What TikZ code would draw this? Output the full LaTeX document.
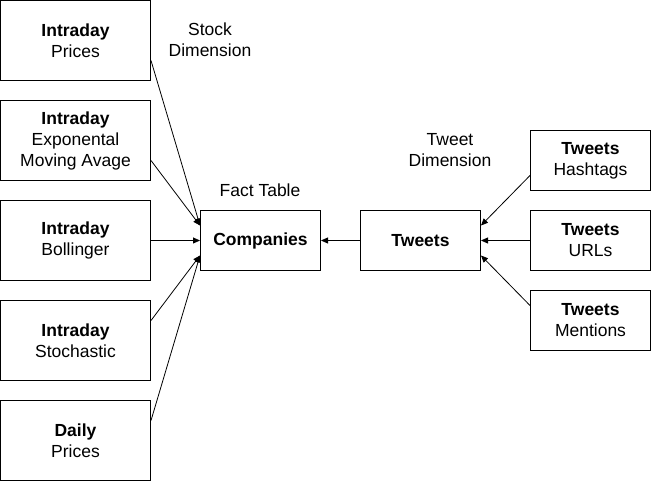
\documentclass[tikz,border=0pt]{standalone}
\usepackage{fontspec}
\setmainfont{Liberation Sans}
\usetikzlibrary{arrows.meta}
\begin{document}
\begin{tikzpicture}[x=1pt,y=-1pt,
  box/.style={draw=black,line width=1pt,fill=white,minimum width=150pt,minimum height=80pt,inner sep=0pt,align=center,font=\fontsize{17.5}{21}\selectfont},
  cbox/.style={box,minimum width=120pt,minimum height=60pt},
  lbl/.style={align=center,font=\fontsize{17.5}{21}\selectfont,inner sep=0pt},
  arr/.style={draw=black,line width=0.8pt,-{Triangle[length=7pt,width=6pt]}}]
\useasboundingbox (0,0) rectangle (651,481);
\node[box] (ip) at (75.5,40.5) {\textbf{Intraday}\\Prices};
\node[box] (ie) at (75.5,140.5) {\textbf{Intraday}\\Exponental\\Moving Avage};
\node[box] (ib) at (75.5,240.5) {\textbf{Intraday}\\Bollinger};
\node[box] (is) at (75.5,340.5) {\textbf{Intraday}\\Stochastic};
\node[box] (dp) at (75.5,440.5) {\textbf{Daily}\\Prices};
\node[cbox] (co) at (260.5,240.5) {\textbf{Companies}};
\node[cbox] (tw) at (420.5,240.5) {\textbf{Tweets}};
\node[cbox] (th) at (590.5,160.5) {\textbf{Tweets}\\Hashtags};
\node[cbox] (tu) at (590.5,240.5) {\textbf{Tweets}\\URLs};
\node[cbox] (tm) at (590.5,320.5) {\textbf{Tweets}\\Mentions};
\node[lbl] (sd) at (210,40) {Stock\\Dimension};
\node[lbl] (ft) at (260,190) {Fact Table};
\node[lbl] (td) at (450,150) {Tweet\\Dimension};
\draw[arr] ([yshift=-20pt]ip.east) -- ([yshift=15pt]co.west);
\draw[arr] ([yshift=-20pt]ie.east) -- ([yshift=15pt]co.west);
\draw[arr] (ib.east) -- (co.west);
\draw[arr] ([yshift=20pt]is.east) -- ([yshift=-15pt]co.west);
\draw[arr] ([yshift=20pt]dp.east) -- ([yshift=-15pt]co.west);
\draw[arr] (tw.west) -- (co.east);
\draw[arr] ([yshift=-15pt]th.west) -- ([yshift=15pt]tw.east);
\draw[arr] (tu.west) -- (tw.east);
\draw[arr] ([yshift=15pt]tm.west) -- ([yshift=-15pt]tw.east);
\end{tikzpicture}
\end{document}
